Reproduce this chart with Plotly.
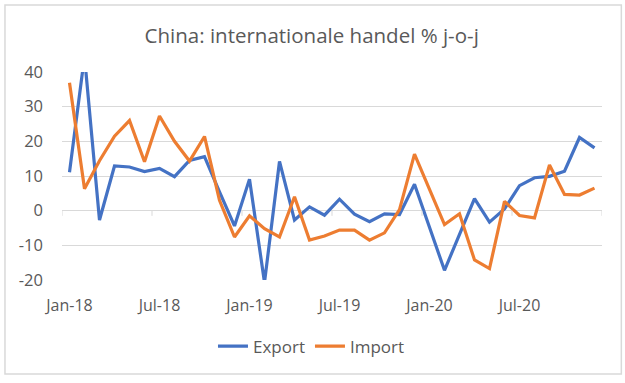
import plotly.graph_objects as go

months = [f"{m}-{y}" for y in ["18", "19", "20"] for m in
          ["Jan", "Feb", "Mar", "Apr", "May", "Jun", "Jul", "Aug", "Sep", "Oct", "Nov", "Dec"]]

export = [11.1, 44.5, -2.7, 12.9, 12.6, 11.3, 12.2, 9.8, 14.5, 15.6, 5.4, -4.4,
          9.1, -20.7, 14.2, -2.7, 1.1, -1.3, 3.3, -1.0, -3.2, -0.9, -1.1, 7.6,
          None, -17.2, -6.6, 3.5, -3.3, 0.5, 7.2, 9.5, 9.9, 11.4, 21.1, 18.1]
imports = [36.9, 6.3, 14.4, 21.5, 26.0, 14.1, 27.3, 20.0, 14.3, 21.4, 3.0, -7.6,
           -1.5, -5.2, -7.6, 4.0, -8.5, -7.3, -5.6, -5.6, -8.5, -6.4, 0.3, 16.3,
           None, -4.0, -0.9, -14.2, -16.7, 2.7, -1.4, -2.1, 13.2, 4.7, 4.5, 6.5]

y_ticks = [-20, -10, 0, 10, 20, 30, 40]
y_ticktext = ["-20", "-10", "0", "10", "20", "30", "40"]
x_ticks = months[::6]

TXT = "#595959"
GRID = "#d9d9d9"
FONT = "Open Sans"

fig = go.Figure()
fig.add_trace(go.Scatter(x=months, y=export, name="Export", mode="lines",
                         line=dict(color="#4472C4", width=3.2), connectgaps=True))
fig.add_trace(go.Scatter(x=months, y=imports, name="Import", mode="lines",
                         line=dict(color="#ED7D31", width=3.2), connectgaps=True))

# tick marks on the zero line at category boundaries
shapes = []
for k in range(0, 37, 6):
    shapes.append(dict(type="line", xref="x", yref="y", x0=k - 0.5, x1=k - 0.5,
                       y0=0, y1=-1.5, line=dict(color=GRID, width=1)))
# outer chart border
shapes.append(dict(type="rect", xref="paper", yref="paper",
                   x0=-0.1056, x1=1.0358, y0=-0.452, y1=1.322,
                   line=dict(color=GRID, width=1.5), fillcolor="rgba(0,0,0,0)", layer="below"))

fig.update_layout(
    width=625, height=383,
    margin=dict(l=62, r=23, t=72, b=103),
    paper_bgcolor="white", plot_bgcolor="white",
    font=dict(family=FONT, color=TXT, size=16),
    title=dict(text="China: internationale handel % j-o-j", x=0.4987, xref="container",
               xanchor="center", y=0.906, yref="container", yanchor="middle",
               font=dict(size=20.5, color=TXT, family=FONT)),
    xaxis=dict(type="category", categoryorder="array", categoryarray=months,
               range=[-0.5, 35.5], tickvals=x_ticks, ticktext=x_ticks,
               showgrid=False, zeroline=False, showline=False, ticks="",
               ticklabelstandoff=14, tickfont=dict(size=16)),
    yaxis=dict(range=[-20, 40], tickvals=y_ticks, ticktext=y_ticktext,
               showgrid=True, gridcolor=GRID, gridwidth=1, zeroline=False,
               showline=False, ticks="", ticklabelstandoff=18, tickfont=dict(size=16.5)),
    legend=dict(orientation="h", x=0.462, xanchor="center", y=-0.32, yanchor="middle",
                font=dict(size=17, color=TXT), itemwidth=30, bgcolor="rgba(0,0,0,0)"),
    shapes=shapes,
    showlegend=True,
)

fig.write_html("out.html", config={"displayModeBar": False},
               post_script="document.body.style.margin='0';")
